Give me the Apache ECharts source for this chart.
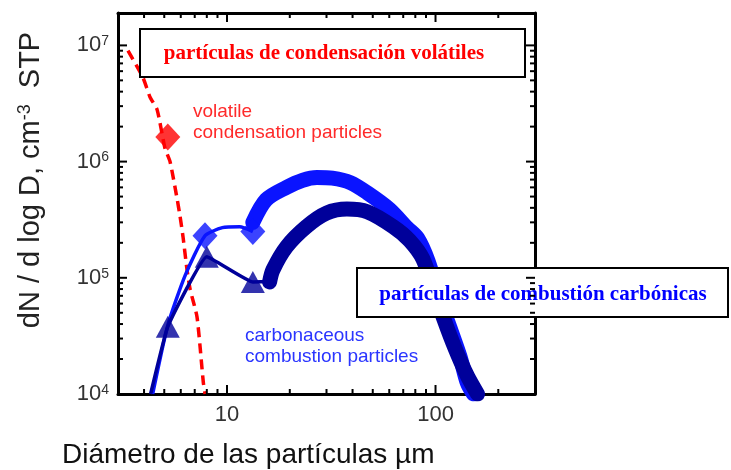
<!DOCTYPE html>
<html>
<head>
<meta charset="utf-8">
<script src="https://cdn.jsdelivr.net/npm/echarts@6/dist/echarts.min.js"></script>
<style>
  html, body { margin: 0; padding: 0; background: #fff; }
  #J_chart { width: 731px; height: 470px; }
  #J_err { position: absolute; right: 4px; bottom: 4px; width: 280px; font: 10px monospace; color: #c00; }
</style>
</head>
<body>
<div id="J_chart"></div>
<div id="J_err"></div>
<script>
// volatile condensation particles (red dashed)
var redX = [3.35, 3.95, 4.27, 4.62, 5.04, 5.33, 5.76, 5.95, 6.15, 6.43, 6.66, 7.18, 7.7, 7.85];
var redY = [9.0e6, 5.3e6, 3.6e6, 2.8e6, 1.3e6, 1.0e6, 4.8e5, 3.4e5, 2.26e5, 1.17e5, 7.9e4, 4.6e4, 1.25e4, 1.0e4];
var redMarkX = [5.2];
var redMarkY = [1.63e6];

// carbonaceous, light blue diamonds: thin part + dense band
var lightX = [4.4, 5.2, 6.3, 7.84, 9.5, 11.5, 13.3];
var lightY = [1.0e4, 3.9e4, 1.05e5, 2.3e5, 2.7e5, 2.75e5, 2.5e5];
var lightMarkX = [7.84, 13.3];
var lightMarkY = [2.3e5, 2.5e5];
var lightBandX = [13.3, 15.4, 19.3, 23, 27, 32, 39, 47, 60, 73, 82, 92, 105, 115, 131, 142, 152];
var lightBandY = [3.0e5, 4.7e5, 6.0e5, 6.9e5, 7.3e5, 7.2e5, 6.6e5, 5.4e5, 3.9e5, 2.7e5, 2.2e5, 1.4e5, 6.5e4, 4.1e4, 2.1e4, 1.25e4, 1.0e4];

// carbonaceous, dark blue triangles: thin part + dense band
var darkX = [4.3, 5.2, 8.0, 13.3, 16.0];
var darkY = [1.0e4, 3.8e4, 1.52e5, 9.2e4, 9.3e4];
var darkMarkX = [5.2, 8.0, 13.3];
var darkMarkY = [3.8e4, 1.52e5, 9.2e4];
var darkBandX = [16.0, 16.6, 19.3, 24, 30, 37.6, 47, 62.7, 75, 87, 100, 118, 132, 143, 159];
var darkBandY = [9.2e4, 1.17e5, 1.85e5, 2.75e5, 3.6e5, 3.9e5, 3.7e5, 2.75e5, 2.1e5, 1.45e5, 7.0e4, 3.1e4, 1.9e4, 1.4e4, 1.0e4];

// ticks of both log axes (drawn on all four sides of the frame)
var majorTickX = [10, 100];
var minorTickX = [4, 5, 6, 7, 8, 9, 20, 30, 40, 50, 60, 70, 80, 90, 200];
var majorTickY = [1e5, 1e6, 1e7];
var minorTickY = [2e4, 3e4, 4e4, 5e4, 6e4, 7e4, 8e4, 9e4, 2e5, 3e5, 4e5, 5e5, 6e5, 7e5, 8e5, 9e5,
                  2e6, 3e6, 4e6, 5e6, 6e6, 7e6, 8e6, 9e6];

var X_MIN = 3, X_MAX = 300, Y_MIN = 1e4, Y_MAX = 1.9e7;

var errBox = document.getElementById('J_err');
function note(s) { errBox.textContent += s + ' '; }
window.onerror = function (m) { note('ERR ' + m); };

function zip(xs, ys) {
  return xs.map(function (x, i) { return [x, ys[i]]; });
}
function isPow10(v) {
  var p = Math.log(v) / Math.LN10;
  return Math.abs(p - Math.round(p)) < 1e-6;
}
function frameLine() {
  return { show: true, onZero: false, lineStyle: { color: '#000', width: 3 } };
}

var chart = echarts.init(document.getElementById('J_chart'));

var baseGraphic = [
  {
    type: 'text', x: 31, y: 180, rotation: Math.PI / 2, z: 50,
    style: {
      text: 'dN / d log D, cm{s|-3}  STP', fill: '#222', fontSize: 29, fontFamily: 'Liberation Sans',
      align: 'center', verticalAlign: 'middle',
      rich: { s: { fontSize: 18, fill: '#222', fontFamily: 'Liberation Sans', verticalAlign: 'top' } }
    }
  },
  {
    type: 'text', x: 62, y: 455, z: 50,
    style: {
      text: 'Diámetro de las partículas µm', fill: '#111', fontSize: 28, fontFamily: 'Liberation Sans',
      align: 'left', verticalAlign: 'middle'
    }
  },
  {
    type: 'text', x: 193, y: 122, z: 50,
    style: {
      text: 'volatile\ncondensation particles', fill: '#ff2a2a', fontSize: 19, lineHeight: 21,
      fontFamily: 'Liberation Sans', align: 'left', verticalAlign: 'middle'
    }
  },
  {
    type: 'text', x: 245, y: 346, z: 50,
    style: {
      text: 'carbonaceous\ncombustion particles', fill: '#2a35ff', fontSize: 19, lineHeight: 21,
      fontFamily: 'Liberation Sans', align: 'left', verticalAlign: 'middle'
    }
  },
  {
    type: 'rect', z: 100, shape: { x: 140, y: 29, width: 385, height: 48 },
    style: { fill: '#fff', stroke: '#000', lineWidth: 2 }
  },
  {
    type: 'text', x: 324, y: 54, z: 101,
    style: {
      text: 'partículas de condensación volátiles', fill: '#ff0000', fontSize: 21, fontWeight: 'bold',
      fontFamily: 'Liberation Serif', align: 'center', verticalAlign: 'middle'
    }
  },
  {
    type: 'rect', z: 100, shape: { x: 357, y: 268, width: 371, height: 49 },
    style: { fill: '#fff', stroke: '#000', lineWidth: 2 }
  },
  {
    type: 'text', x: 543, y: 295, z: 101,
    style: {
      text: 'partículas de combustión carbónicas', fill: '#0000ff', fontSize: 21, fontWeight: 'bold',
      fontFamily: 'Liberation Serif', align: 'center', verticalAlign: 'middle'
    }
  }
];

var option = {
  animation: false,
  grid: { left: 118, top: 13, width: 417, height: 381 },
  xAxis: [
    {
      type: 'log', logBase: 10, min: X_MIN, max: X_MAX, position: 'bottom',
      axisLine: frameLine(), axisTick: { show: false }, splitLine: { show: false },
      axisLabel: {
        margin: 10, fontSize: 22, color: '#333', fontFamily: 'Liberation Sans',
        formatter: function (v) { return isPow10(v) ? String(Math.round(v)) : ''; }
      }
    },
    {
      type: 'log', logBase: 10, min: X_MIN, max: X_MAX, position: 'top',
      axisLine: frameLine(), axisTick: { show: false }, splitLine: { show: false },
      axisLabel: { show: false }
    }
  ],
  yAxis: [
    {
      type: 'log', logBase: 10, min: Y_MIN, max: Y_MAX, position: 'left',
      axisLine: frameLine(), axisTick: { show: false }, splitLine: { show: false },
      axisLabel: {
        margin: 9, fontSize: 22, color: '#333', fontFamily: 'Liberation Sans',
        formatter: function (v) {
          if (!isPow10(v)) return '';
          return '10{s|' + Math.round(Math.log(v) / Math.LN10) + '}';
        },
        rich: { s: { fontSize: 14, color: '#333', fontFamily: 'Liberation Sans', verticalAlign: 'top' } }
      }
    },
    {
      type: 'log', logBase: 10, min: Y_MIN, max: Y_MAX, position: 'right',
      axisLine: frameLine(), axisTick: { show: false }, splitLine: { show: false },
      axisLabel: { show: false }
    }
  ],
  series: [
    {
      name: 'volatile', type: 'line', data: zip(redX, redY), symbol: 'none', smooth: 0.2,
      lineStyle: { color: '#ff0000', width: 3.5, type: [10, 6] }, z: 2
    },
    {
      name: 'volatileMark', type: 'scatter', data: zip(redMarkX, redMarkY),
      symbol: 'diamond', symbolSize: [25, 27], itemStyle: { color: '#ff0000' }, z: 2
    },
    {
      name: 'light', type: 'line', data: zip(lightX, lightY), symbol: 'none', smooth: 0.2,
      lineStyle: { color: '#0a14ff', width: 3.5 }, z: 3
    },
    {
      name: 'lightBand', type: 'line', data: zip(lightBandX, lightBandY), symbol: 'none', smooth: 0.3,
      lineStyle: { color: '#0a14ff', width: 15, cap: 'round', join: 'round' }, z: 3
    },
    {
      name: 'lightMark', type: 'scatter', data: zip(lightMarkX, lightMarkY),
      symbol: 'diamond', symbolSize: [25, 27], itemStyle: { color: '#0a14ff' }, z: 3
    },
    {
      name: 'dark', type: 'line', data: zip(darkX, darkY), symbol: 'none', smooth: 0.1,
      lineStyle: { color: '#00009a', width: 3.5 }, z: 4
    },
    {
      name: 'darkBand', type: 'line', data: zip(darkBandX, darkBandY), symbol: 'none', smooth: 0.3,
      lineStyle: { color: '#00009a', width: 15, cap: 'round', join: 'round' }, z: 4
    },
    {
      name: 'darkMark', type: 'scatter', data: zip(darkMarkX, darkMarkY),
      symbol: 'triangle', symbolSize: [24, 22], itemStyle: { color: '#00009a' }, z: 4
    }
  ],
  graphic: baseGraphic
};

try {
  chart.setOption(option);
} catch (e) {
  note('setOption1: ' + e.message);
}

// inward tick marks on all four sides, placed through the axis scales
var tickEls = [];
try {
  var lo = chart.convertToPixel({ xAxisIndex: 0, yAxisIndex: 0 }, [X_MIN, Y_MIN]);
  var hi = chart.convertToPixel({ xAxisIndex: 0, yAxisIndex: 0 }, [X_MAX, Y_MAX]);
  var addX = function (values, len) {
    values.forEach(function (v) {
      var px = chart.convertToPixel({ xAxisIndex: 0 }, v);
      tickEls.push({ type: 'rect', z: 120, shape: { x: px - 1, y: lo[1] - len, width: 2, height: len }, style: { fill: '#000' } });
      tickEls.push({ type: 'rect', z: 120, shape: { x: px - 1, y: hi[1], width: 2, height: len }, style: { fill: '#000' } });
    });
  };
  var addY = function (values, len) {
    values.forEach(function (v) {
      var py = chart.convertToPixel({ yAxisIndex: 0 }, v);
      tickEls.push({ type: 'rect', z: 120, shape: { x: lo[0], y: py - 1, width: len, height: 2 }, style: { fill: '#000' } });
      tickEls.push({ type: 'rect', z: 120, shape: { x: hi[0] - len, y: py - 1, width: len, height: 2 }, style: { fill: '#000' } });
    });
  };
  addX(majorTickX, 9);
  addX(minorTickX, 5);
  addY(majorTickY, 9);
  addY(minorTickY, 5);
  if (!lo || !hi || isNaN(lo[0])) note('px ' + JSON.stringify(lo) + ' ' + JSON.stringify(hi));
  chart.setOption({ graphic: baseGraphic.concat(tickEls) });
} catch (e) {
  note('ticks: ' + e.message);
}
</script>
</body>
</html>
